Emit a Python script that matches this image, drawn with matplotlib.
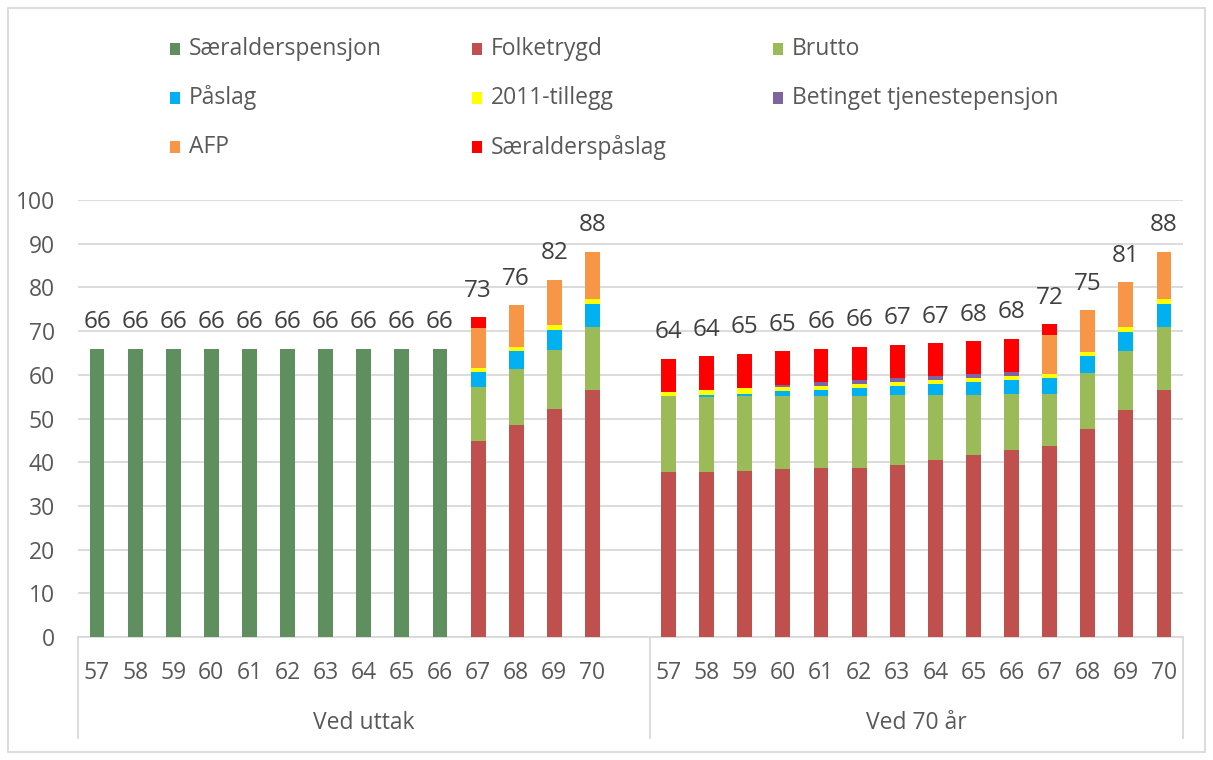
import matplotlib
matplotlib.use("Agg")
import matplotlib.pyplot as plt
from matplotlib.patches import Rectangle
import numpy as np

plt.rcParams['font.family'] = ['Open Sans', 'DejaVu Sans']

# ---------------- data ----------------
ages = ["57", "58", "59", "60", "61", "62", "63", "64", "65", "66", "67", "68", "69", "70"]
groups = ["Ved uttak", "Ved 70 år"]

series_names = ["Særalderspensjon", "Folketrygd", "Brutto", "Påslag", "2011-tillegg",
                "Betinget tjenestepensjon", "AFP", "Særalderspåslag"]
series_colors = ["#5F8F5F", "#C0504D", "#9BBB59", "#00B0F0", "#FFFF00",
                 "#8064A2", "#F79646", "#FF0000"]

# Ved uttak
uttak_saeralder = [66, 66, 66, 66, 66, 66, 66, 66, 66, 66, 0, 0, 0, 0]
uttak_folketrygd = [0, 0, 0, 0, 0, 0, 0, 0, 0, 0, 44.9, 48.4, 52.2, 56.6]
uttak_brutto = [0, 0, 0, 0, 0, 0, 0, 0, 0, 0, 12.3, 12.9, 13.5, 14.3]
uttak_paslag = [0, 0, 0, 0, 0, 0, 0, 0, 0, 0, 3.4, 4.1, 4.6, 5.4]
uttak_2011 = [0, 0, 0, 0, 0, 0, 0, 0, 0, 0, 1.0, 1.0, 1.2, 1.0]
uttak_betinget = [0, 0, 0, 0, 0, 0, 0, 0, 0, 0, 0, 0, 0, 0]
uttak_afp = [0, 0, 0, 0, 0, 0, 0, 0, 0, 0, 9.1, 9.5, 10.3, 10.9]
uttak_saerpaslag = [0, 0, 0, 0, 0, 0, 0, 0, 0, 0, 2.5, 0, 0, 0]

# Ved 70 år
v70_saeralder = [0, 0, 0, 0, 0, 0, 0, 0, 0, 0, 0, 0, 0, 0]
v70_folketrygd = [37.8, 37.8, 38.1, 38.4, 38.7, 38.7, 39.4, 40.4, 41.6, 42.9, 43.7, 47.5, 51.9, 56.6]
v70_brutto = [17.3, 17.1, 17.0, 16.7, 16.4, 16.4, 16.0, 15.0, 13.8, 12.8, 12.0, 12.9, 13.5, 14.3]
v70_paslag = [0.1, 0.5, 0.6, 1.2, 1.5, 1.8, 2.1, 2.4, 3.0, 3.0, 3.5, 3.8, 4.4, 5.4]
v70_2011 = [0.9, 1.2, 1.2, 0.9, 0.9, 1.1, 0.9, 1.1, 0.8, 1.1, 1.0, 1.1, 1.1, 1.0]
v70_betinget = [0, 0, 0.1, 0.5, 0.9, 0.9, 0.9, 0.9, 1.0, 0.9, 0, 0, 0, 0]
v70_afp = [0, 0, 0, 0, 0, 0, 0, 0, 0, 0, 9.0, 9.5, 10.3, 10.9]
v70_saerpaslag = [7.6, 7.6, 7.8, 7.7, 7.6, 7.5, 7.6, 7.5, 7.5, 7.6, 2.4, 0, 0, 0]

uttak = [uttak_saeralder, uttak_folketrygd, uttak_brutto, uttak_paslag, uttak_2011,
         uttak_betinget, uttak_afp, uttak_saerpaslag]
v70 = [v70_saeralder, v70_folketrygd, v70_brutto, v70_paslag, v70_2011,
       v70_betinget, v70_afp, v70_saerpaslag]

# ---------------- figure ----------------
W, H = 1213, 760
fig = plt.figure(figsize=(W / 100, H / 100), dpi=100)
ax = fig.add_axes([78 / W, 1 - 637 / H, (1183 - 78) / W, (637 - 200) / H])

n = len(ages)
x1 = np.arange(n)                 # Ved uttak
x2 = np.arange(n) + n + 1         # Ved 70 år (one empty category between)
xs = np.concatenate([x1, x2])

bar_w = 0.39
bottom = np.zeros(2 * n)
for name, col, a, b in zip(series_names, series_colors, uttak, v70):
    vals = np.array(a + b, dtype=float)
    ax.bar(xs, vals, bar_w, bottom=bottom, color=col, linewidth=0, zorder=3)
    bottom += vals

totals = bottom
for x, t in zip(xs, totals):
    ax.annotate(f"{int(round(t))}", (x, t), xytext=(0, 19), textcoords="offset points",
                ha="center", va="center", fontsize=17.5, color="#404040")

ax.set_xlim(-0.5, 2 * n + 0.5)
ax.set_ylim(0, 100)
ax.set_yticks(np.arange(0, 101, 10))
ax.yaxis.grid(True, color="#D9D9D9", linewidth=1.3, zorder=0)
ax.set_axisbelow(True)
ax.tick_params(axis="y", length=0, pad=16.5, labelsize=16.5, labelcolor="#595959")
ax.set_xticks([])
for s in ["top", "right", "left"]:
    ax.spines[s].set_visible(False)
ax.spines["bottom"].set_color("#D9D9D9")
ax.spines["bottom"].set_linewidth(1.3)

trans = ax.get_xaxis_transform()
ppy = 437.0
for x, lab in zip(xs, ages + ages):
    ax.text(x, -(673 - 637) / ppy, lab, transform=trans, ha="center", va="center",
            fontsize=16.5, color="#595959")
for xc, g in zip([(x1[0] + x1[-1] + 1) / 2, (x2[0] + x2[-1]) / 2], groups):
    ax.text(xc, -(723 - 637) / ppy, g, transform=trans, ha="center", va="center",
            fontsize=16.5, color="#595959")
for xb in [-0.5, n + 0.5, 2 * n + 0.5]:
    ax.plot([xb, xb], [0, -(738 - 637) / ppy], transform=trans, clip_on=False,
            color="#D9D9D9", linewidth=1.3)

# legend (row-major, 3 columns)
col_x = [170, 472, 773]
row_y = [49, 98, 147]
for i, (name, col) in enumerate(zip(series_names, series_colors)):
    r, c = divmod(i, 3)
    mx, my = col_x[c], row_y[r]
    fig.add_artist(Rectangle((mx / W, 1 - (my + 6) / H), 10 / W, 12 / H,
                             transform=fig.transFigure, facecolor=col, edgecolor="none"))
    fig.text((mx + 19) / W, 1 - my / H, name, ha="left", va="center",
             fontsize=16.5, color="#595959")

# outer chart border
fig.add_artist(Rectangle((8 / W, 1 - 752 / H), (1205 - 8) / W, (752 - 8) / H,
                         transform=fig.transFigure, fill=False, edgecolor="#D9D9D9",
                         linewidth=1.3))

fig.savefig("out.png", dpi=100)
